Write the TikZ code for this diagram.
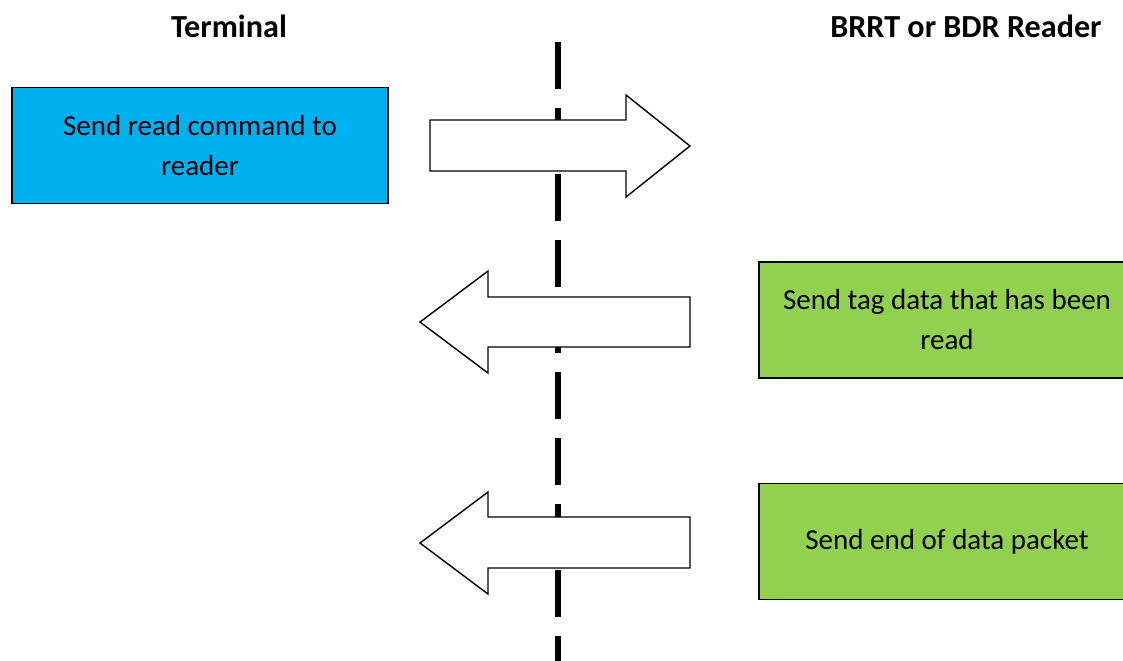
\documentclass[tikz,border=0pt]{standalone}
\usepackage{fontspec}
\setmainfont{Carlito}
\definecolor{c1}{HTML}{00B0F0}
\definecolor{c2}{HTML}{92D050}

\begin{document}
\begin{tikzpicture}[x=0.02cm,y=-0.02cm,
  stepbox/.style={draw, line width=1.1pt, minimum width=7.52cm, minimum height=2.32cm,
    inner sep=0pt, align=center, font=\fontsize{16.5}{22.8}\selectfont},
  side/.style={font=\bfseries\fontsize{18.3}{22}\selectfont},
  blockarrow/.style={draw, fill=white, line width=0.8pt, line join=miter}]
\useasboundingbox (0,0) rectangle (1123,660);
\clip (0,0) rectangle (1123,660);

\node[side] (term) at (229,26) {Terminal};
\node[side] (rdr) at (966,26) {BRRT or BDR Reader};

% divider
\coordinate (top) at (558,42);
\coordinate (bot) at (558,670);
\draw[line width=0.12cm, dash pattern=on 0.94cm off 0.38cm] (top) -- (bot);

\node[stepbox, fill=c1] (cmd) at (200,145.5) {Send read command to\\reader};
\node[stepbox, fill=c2] (tag) at (947,320) {Send tag data that has been\\read};
\node[stepbox, fill=c2] (eod) at (947,541.5) {Send end of data packet};

% block arrows
\draw[blockarrow] (430,120) -- (626,120) -- (626,95) -- (690,146) -- (626,197) -- (626,171) -- (430,171) -- cycle;
\draw[blockarrow] (690,297) -- (488,297) -- (488,271) -- (420,322) -- (488,373) -- (488,347) -- (690,347) -- cycle;
\draw[blockarrow] (690,517) -- (488,517) -- (488,492) -- (420,543) -- (488,594) -- (488,568) -- (690,568) -- cycle;
\end{tikzpicture}
\end{document}
